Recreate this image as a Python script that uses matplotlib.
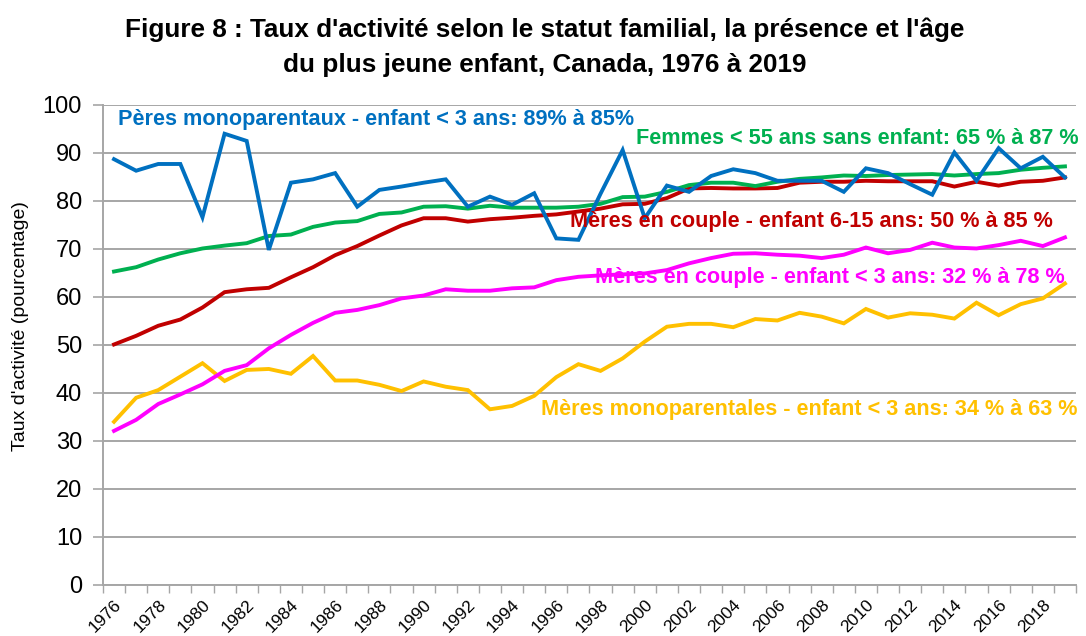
import numpy as np
import matplotlib.pyplot as plt
from matplotlib.transforms import ScaledTranslation

# Taux d'activité, Canada 1976-2019
annees = list(range(1976, 2020))

peres_mono = [88.7, 86.3, 87.7, 87.7, 76.6, 94.0, 92.5, 69.8, 83.8, 84.5,
              85.8, 78.8, 82.3, 83.0, 83.8, 84.5, 78.8, 80.9, 79.2, 81.6,
              72.2, 71.9, 81.5, 90.6, 76.4, 83.2, 81.9, 85.2, 86.6, 85.8,
              84.2, 84.2, 84.2, 81.9, 86.8, 85.8, 83.5, 81.3, 90.1, 84.2,
              91.0, 86.8, 89.2, 84.9]
femmes_sans = [65.3, 66.2, 67.8, 69.1, 70.1, 70.7, 71.2, 72.7, 73.0, 74.6,
               75.5, 75.8, 77.3, 77.6, 78.8, 78.9, 78.4, 79.0, 78.6, 78.6,
               78.6, 78.8, 79.4, 80.8, 80.9, 81.9, 83.3, 83.8, 83.8, 83.1,
               84.0, 84.6, 84.9, 85.3, 85.2, 85.4, 85.5, 85.6, 85.3, 85.6,
               85.8, 86.5, 86.9, 87.2]
meres_couple_615 = [50.1, 51.9, 54.0, 55.3, 57.8, 61.0, 61.6, 61.9, 64.1, 66.2,
                    68.7, 70.6, 72.8, 74.9, 76.4, 76.4, 75.7, 76.2, 76.5, 76.9,
                    77.2, 77.8, 78.4, 79.3, 79.4, 80.6, 82.6, 82.7, 82.6, 82.6,
                    82.7, 83.8, 84.0, 84.0, 84.2, 84.1, 84.1, 84.1, 83.0, 84.0,
                    83.2, 84.0, 84.2, 84.9]
meres_couple_3 = [32.1, 34.4, 37.7, 39.7, 41.8, 44.6, 45.8, 49.3, 52.1, 54.6,
                  56.7, 57.3, 58.3, 59.7, 60.3, 61.6, 61.3, 61.3, 61.8, 62.0,
                  63.5, 64.2, 64.5, 64.7, 64.9, 65.6, 67.0, 68.1, 69.0, 69.1,
                  68.8, 68.6, 68.1, 68.8, 70.3, 69.1, 69.8, 71.3, 70.3, 70.1,
                  70.8, 71.7, 70.6, 72.4]
meres_mono_3 = [34.0, 39.0, 40.6, 43.4, 46.2, 42.5, 44.8, 45.0, 44.0, 47.7,
                42.6, 42.6, 41.7, 40.4, 42.4, 41.3, 40.6, 36.6, 37.3, 39.4,
                43.3, 46.0, 44.6, 47.2, 50.7, 53.8, 54.4, 54.4, 53.7, 55.4,
                55.1, 56.7, 55.9, 54.5, 57.5, 55.7, 56.6, 56.3, 55.5, 58.8,
                56.2, 58.5, 59.7, 62.8]

etiquettes = ["Pères monoparentaux - enfant < 3 ans: 89% à 85%",
              "Femmes < 55 ans sans enfant: 65 % à 87 %",
              "Mères en couple - enfant 6-15 ans: 50 % à 85 %",
              "Mères en couple - enfant < 3 ans: 32 % à 78 %",
              "Mères monoparentales - enfant < 3 ans: 34 % à 63 %"]

plt.rcParams['font.family'] = ['Liberation Sans', 'DejaVu Sans']

fig = plt.figure(figsize=(10.86, 6.36), dpi=100)
ax = fig.add_axes([0.0948, 0.0802, 0.8960, 0.7548])

x = np.arange(len(annees))
series = [(peres_mono, '#0070C0'), (femmes_sans, '#00B050'),
          (meres_couple_615, '#C00000'), (meres_couple_3, '#FF00FF'),
          (meres_mono_3, '#FFC000')]
# ordre de dessin: jaune, magenta, rouge, vert, bleu
for vals, col in series[::-1]:
    ax.plot(x, vals, color=col, lw=2.8, solid_joinstyle='miter', zorder=3)

# étiquettes des séries
pos = [(0.17, 96.9), (23.6, 93.1), (20.6, 75.8), (21.75, 64.0), (19.3, 36.5)]
for (tx, ty), lab, (vals, col) in zip(pos, etiquettes, series):
    ax.text(tx, ty, lab, color=col, fontsize=15.6, fontweight='bold',
            ha='left', va='center', zorder=4)

ax.set_xlim(-0.5, len(annees) - 0.5)
ax.set_ylim(0, 100)
ax.set_yticks(range(0, 101, 10))
ax.yaxis.grid(True, color='#A6A6A6', lw=1.4)
ax.set_axisbelow(True)

ax.set_xticks(x[::2])
ax.set_xticklabels([str(a) for a in annees[::2]], rotation=45,
                   ha='right', rotation_mode='anchor', fontsize=12.5)
decal = ScaledTranslation(5 / 100, 0, fig.dpi_scale_trans)
for lab in ax.get_xticklabels():
    lab.set_transform(lab.get_transform() + decal)
ax.set_xticks(np.arange(-0.5, len(annees)), minor=True)
ax.tick_params(axis='x', which='major', length=0, pad=9)
ax.tick_params(axis='x', which='minor', length=6, color='#A6A6A6', width=1)
ax.tick_params(axis='y', length=7, color='#A6A6A6', width=1.2, pad=8,
               labelsize=17)

for s in ['top', 'right']:
    ax.spines[s].set_visible(False)
for s in ['left', 'bottom']:
    ax.spines[s].set_color('#A6A6A6')
    ax.spines[s].set_linewidth(1.4)

ax.set_ylabel("Taux d'activité (pourcentage)", fontsize=14)
ax.yaxis.set_label_coords(-0.076, 0.54)

fig.text(0.502, 0.953, "Figure 8 : Taux d'activité selon le statut familial, la présence et l'âge",
         ha='center', va='center', fontsize=18.8, fontweight='bold')
fig.text(0.502, 0.898, "du plus jeune enfant, Canada, 1976 à 2019",
         ha='center', va='center', fontsize=18.8, fontweight='bold')

fig.savefig('out.png', dpi=100)
